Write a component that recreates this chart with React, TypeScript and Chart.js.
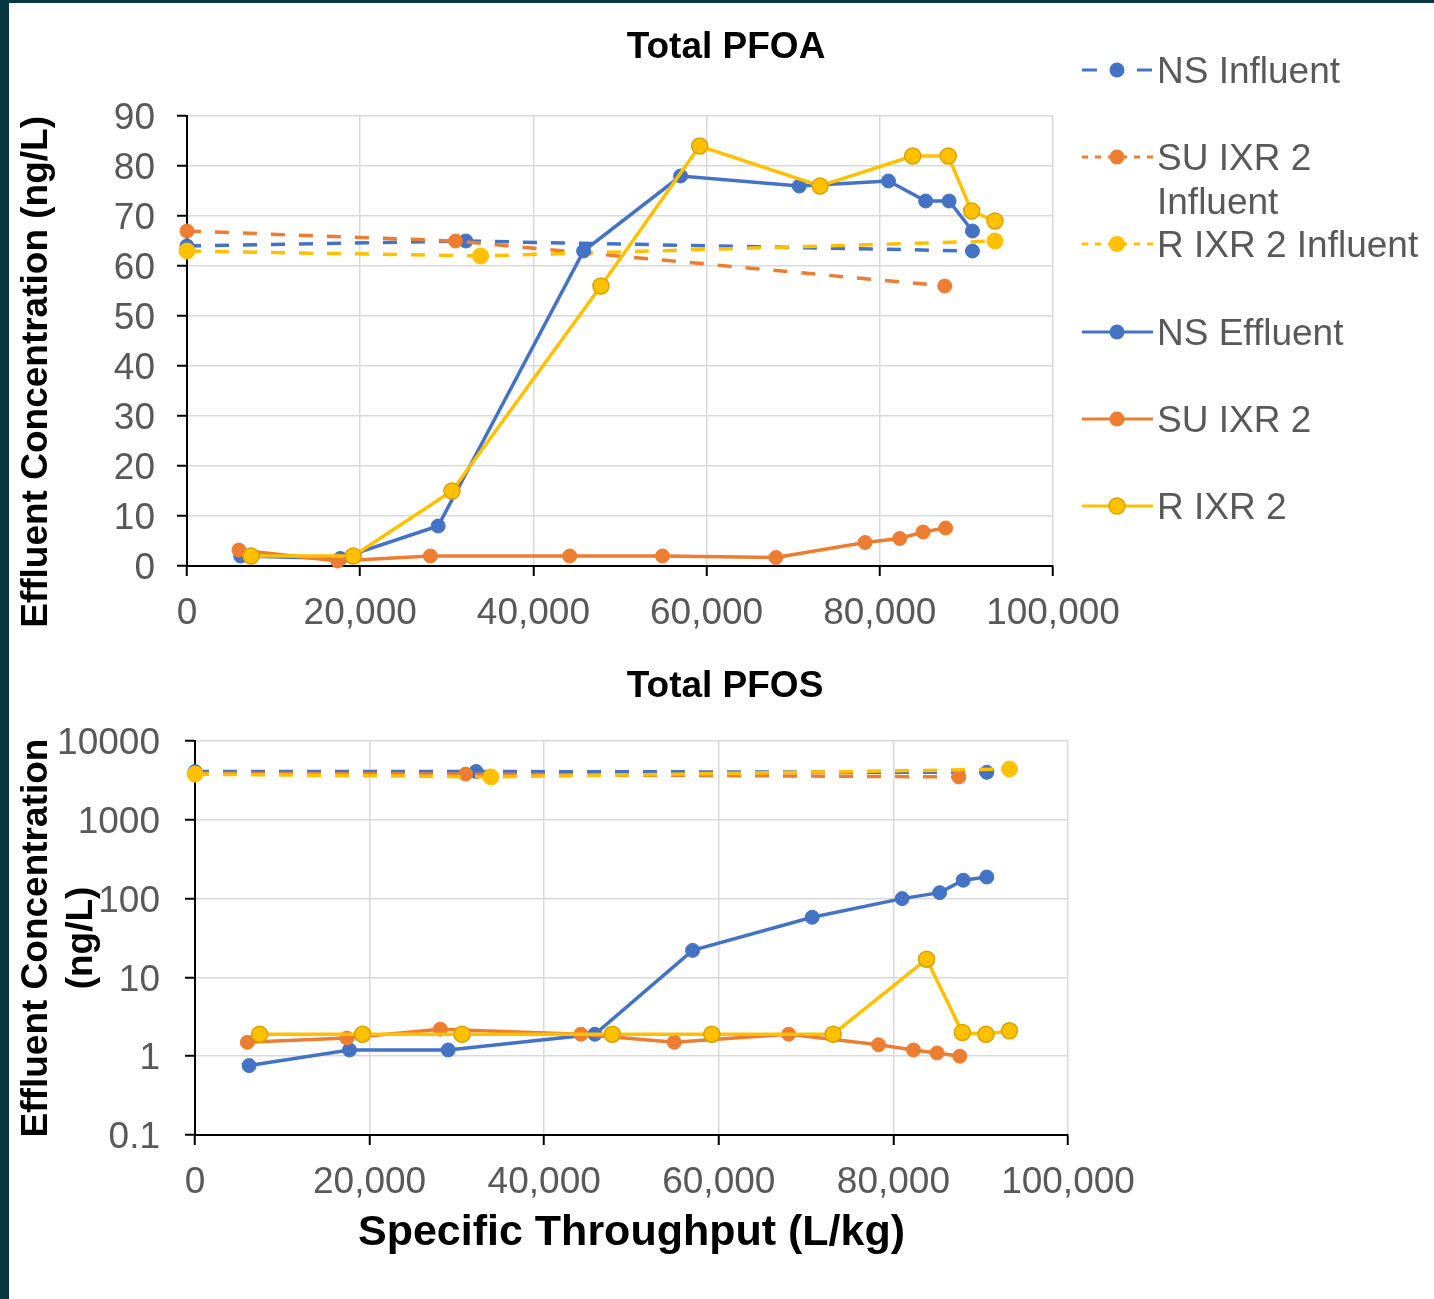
import React, { useEffect, useRef } from 'react';
import { Chart, registerables } from 'chart.js';

Chart.register(...registerables);

// ---------- data ----------
const xTicks = [0, 20000, 40000, 60000, 80000, 100000];
const pfoaTicks = [0, 10, 20, 30, 40, 50, 60, 70, 80, 90];
const pfosTicks = [0.1, 1, 10, 100, 1000, 10000];

const seriesNames = ['NS Influent', 'SU IXR 2 Influent', 'R IXR 2 Influent', 'NS Effluent', 'SU IXR 2', 'R IXR 2'];
const legendLines = [['NS Influent'], ['SU IXR 2', 'Influent'], ['R IXR 2 Influent'], ['NS Effluent'], ['SU IXR 2'], ['R IXR 2']];

const nsInfX = [0, 32200, 90700];
const nsInfPFOA = [64, 65, 63];
const nsInfPFOS = [4100, 4100, 4000];

const suInfX = [0, 31000, 87500];
const suInfPFOA = [67, 65, 56];
const suInfPFOS = [3900, 3800, 3500];

const rInfX = [0, 33900, 93300];
const rInfPFOA = [63, 62, 65];
const rInfPFOS = [3800, 3500, 4400];

const nsEffX = [6200, 17700, 29000, 45800, 57000, 70700, 81000, 85300, 88000, 90700];
const nsEffPFOA = [2, 1.5, 8, 63, 78, 76, 77, 73, 73, 67];
const nsEffPFOS = [0.76, 1.2, 1.2, 1.9, 22, 58, 100, 119, 171, 188];

const suEffX = [6000, 17400, 28100, 44200, 54900, 68000, 78300, 82300, 85000, 87600];
const suEffPFOA = [3.2, 1, 2, 2, 2, 1.7, 4.7, 5.5, 6.8, 7.6];
const suEffPFOS = [1.5, 1.7, 2.2, 1.9, 1.5, 1.9, 1.4, 1.2, 1.1, 1.0];

const rEffX = [7400, 19200, 30600, 47800, 59200, 73100, 83800, 87900, 90600, 93300];
const rEffPFOA = [2, 2, 15, 56, 84, 76, 82, 82, 71, 69];
const rEffPFOS = [1.9, 1.9, 1.9, 1.9, 1.9, 1.9, 17, 2, 1.9, 2.1];

// ---------- styles ----------
const FONT = '"Liberation Sans", Arial, Helvetica, sans-serif';
const BLUE = '#4472C4';
const ORANGE = '#ED7D31';
const YELLOW = '#FFC000';
const GOLD_EDGE = '#D9A300';
const GRID = '#D9D9D9';
const TICK_TEXT = '#595959';
const TEAL = '#06363F';

const seriesX = [nsInfX, suInfX, rInfX, nsEffX, suEffX, rEffX];
const seriesColors = [BLUE, ORANGE, YELLOW, BLUE, ORANGE, YELLOW];

function buildDatasets(ys: number[][]) {
  return seriesNames.map((label, i) => {
    const influent = i < 3;
    const yellow = i % 3 === 2;
    const c = seriesColors[i];
    const edged = yellow && !influent;
    return {
      label,
      data: seriesX[i].map((x, j) => ({ x, y: ys[i][j] })),
      showLine: true,
      borderColor: c,
      backgroundColor: c,
      borderWidth: 3.5,
      borderDash: influent ? [14, 14] : [],
      borderCapStyle: 'butt',
      tension: 0,
      pointRadius: yellow ? 8 : 7,
      pointBackgroundColor: c,
      pointBorderColor: edged ? GOLD_EDGE : c,
      pointBorderWidth: edged ? 1.5 : 1,
      clip: false,
      order: 6 - i,
    };
  });
}

function makeTitlePlugin(text: string, x: number, y: number) {
  return {
    id: 'headerTitle',
    afterDraw(chart: any) {
      const ctx = chart.ctx;
      ctx.save();
      ctx.font = `bold 37px ${FONT}`;
      ctx.fillStyle = '#000000';
      ctx.textAlign = 'center';
      ctx.textBaseline = 'middle';
      ctx.fillText(text, x, y);
      ctx.restore();
    },
  };
}

const legendRowsY = [70, 157, 244, 332, 419, 506];
const legendDash = [[15, 40], [6, 7], [6, 7], [], [], []];

function makeLegendPlugin() {
  return {
    id: 'sideLegend',
    afterDraw(chart: any) {
      const ctx = chart.ctx;
      ctx.save();
      seriesNames.forEach((_name, i) => {
        const y = legendRowsY[i];
        const c = seriesColors[i];
        ctx.lineWidth = 3;
        ctx.strokeStyle = c;
        ctx.lineCap = 'butt';
        ctx.setLineDash(legendDash[i]);
        ctx.beginPath();
        ctx.moveTo(1082, y);
        ctx.lineTo(1153, y);
        ctx.stroke();
        ctx.setLineDash([]);
        ctx.beginPath();
        ctx.arc(1117, y, i % 3 === 2 ? 8 : 7.5, 0, Math.PI * 2);
        ctx.fillStyle = c;
        ctx.fill();
        if (i === 5) {
          ctx.lineWidth = 1.5;
          ctx.strokeStyle = GOLD_EDGE;
          ctx.stroke();
        }
        ctx.fillStyle = TICK_TEXT;
        ctx.font = `37px ${FONT}`;
        ctx.textAlign = 'left';
        ctx.textBaseline = 'middle';
        legendLines[i].forEach((line, k) => ctx.fillText(line, 1157, y + 3 + k * 44));
      });
      ctx.restore();
    },
  };
}

const gridOpts = { color: GRID, lineWidth: 1.5, tickColor: '#000000', tickLength: 10, tickWidth: 2 };
const borderOpts = { display: true, color: '#000000', width: 2 };
const tickFont = { family: FONT, size: 37 };

function xScale(height: number, title?: any) {
  return {
    type: 'linear',
    position: 'bottom',
    min: 0,
    max: 100000,
    afterBuildTicks: (s: any) => {
      s.ticks = xTicks.map((v) => ({ value: v }));
    },
    afterFit: (s: any) => {
      s.height = height;
    },
    ticks: {
      font: tickFont,
      color: TICK_TEXT,
      padding: 16,
      maxRotation: 0,
      minRotation: 0,
      autoSkip: false,
      callback: (v: any) => Number(v).toLocaleString('en-US'),
    },
    grid: gridOpts,
    border: borderOpts,
    title: title || { display: false },
  };
}

export default function App() {
  const topRef = useRef<HTMLCanvasElement | null>(null);
  const botRef = useRef<HTMLCanvasElement | null>(null);

  useEffect(() => {
    document.body.style.margin = '0';
    Chart.defaults.font.family = FONT;

    const top = new Chart(topRef.current as HTMLCanvasElement, {
      type: 'scatter',
      data: {
        datasets: buildDatasets([nsInfPFOA, suInfPFOA, rInfPFOA, nsEffPFOA, suEffPFOA, rEffPFOA]) as any,
      },
      options: {
        responsive: false,
        animation: false,
        events: [],
        layout: { padding: { left: 0, top: 116, right: 381, bottom: 0 } },
        plugins: { legend: { display: false }, tooltip: { enabled: false }, title: { display: false } },
        scales: {
          x: xScale(84) as any,
          y: {
            type: 'linear',
            min: 0,
            max: 90,
            afterBuildTicks: (s: any) => {
              s.ticks = pfoaTicks.map((v) => ({ value: v }));
            },
            afterFit: (s: any) => {
              s.width = 187;
            },
            ticks: { font: tickFont, color: TICK_TEXT, padding: 22, labelOffset: 3 },
            grid: gridOpts,
            border: borderOpts,
            title: {
              display: true,
              text: 'Effluent Concentration (ng/L)',
              align: 'end',
              color: '#000000',
              font: { family: FONT, size: 37, weight: 'bold' },
              padding: { top: 15, bottom: 0 },
            },
          } as any,
        },
      },
      plugins: [makeTitlePlugin('Total PFOA', 726, 48), makeLegendPlugin()],
    } as any);

    const bot = new Chart(botRef.current as HTMLCanvasElement, {
      type: 'scatter',
      data: {
        datasets: buildDatasets([nsInfPFOS, suInfPFOS, rInfPFOS, nsEffPFOS, suEffPFOS, rEffPFOS]) as any,
      },
      options: {
        responsive: false,
        animation: false,
        events: [],
        layout: { padding: { left: 0, top: 91, right: 366, bottom: 0 } },
        plugins: { legend: { display: false }, tooltip: { enabled: false }, title: { display: false } },
        scales: {
          x: xScale(164, {
            display: true,
            text: 'Specific Throughput (L/kg)',
            color: '#000000',
            font: { family: FONT, size: 43, weight: 'bold' },
            padding: { top: 0, bottom: 40 },
          }) as any,
          y: {
            type: 'logarithmic',
            min: 0.1,
            max: 10000,
            afterBuildTicks: (s: any) => {
              s.ticks = pfosTicks.map((v) => ({ value: v }));
            },
            afterFit: (s: any) => {
              s.width = 195;
            },
            ticks: {
              font: tickFont,
              color: TICK_TEXT,
              padding: 25,
              labelOffset: 3,
              autoSkip: false,
              callback: (v: any) => String(v),
            },
            grid: gridOpts,
            border: borderOpts,
            title: {
              display: true,
              text: ['Effluent Concentration', '(ng/L)'],
              align: 'center',
              color: '#000000',
              font: { family: FONT, size: 37, weight: 'bold' },
              padding: { top: 15, bottom: 0 },
            },
          } as any,
        },
      },
      plugins: [makeTitlePlugin('Total PFOS', 725, 37)],
    } as any);

    return () => {
      top.destroy();
      bot.destroy();
    };
  }, []);

  return (
    <div
      style={{
        position: 'absolute',
        left: 0,
        top: 0,
        width: 1434,
        height: 1299,
        background: '#ffffff',
        overflow: 'hidden',
      }}
    >
      <canvas ref={topRef} width={1434} height={650} style={{ position: 'absolute', left: 0, top: 0 }} />
      <canvas ref={botRef} width={1434} height={649} style={{ position: 'absolute', left: 0, top: 650 }} />
      <div style={{ position: 'absolute', left: 0, top: 0, width: 1434, height: 3, background: TEAL }} />
      <div style={{ position: 'absolute', left: 0, top: 0, width: 9, height: 1299, background: TEAL }} />
    </div>
  );
}
